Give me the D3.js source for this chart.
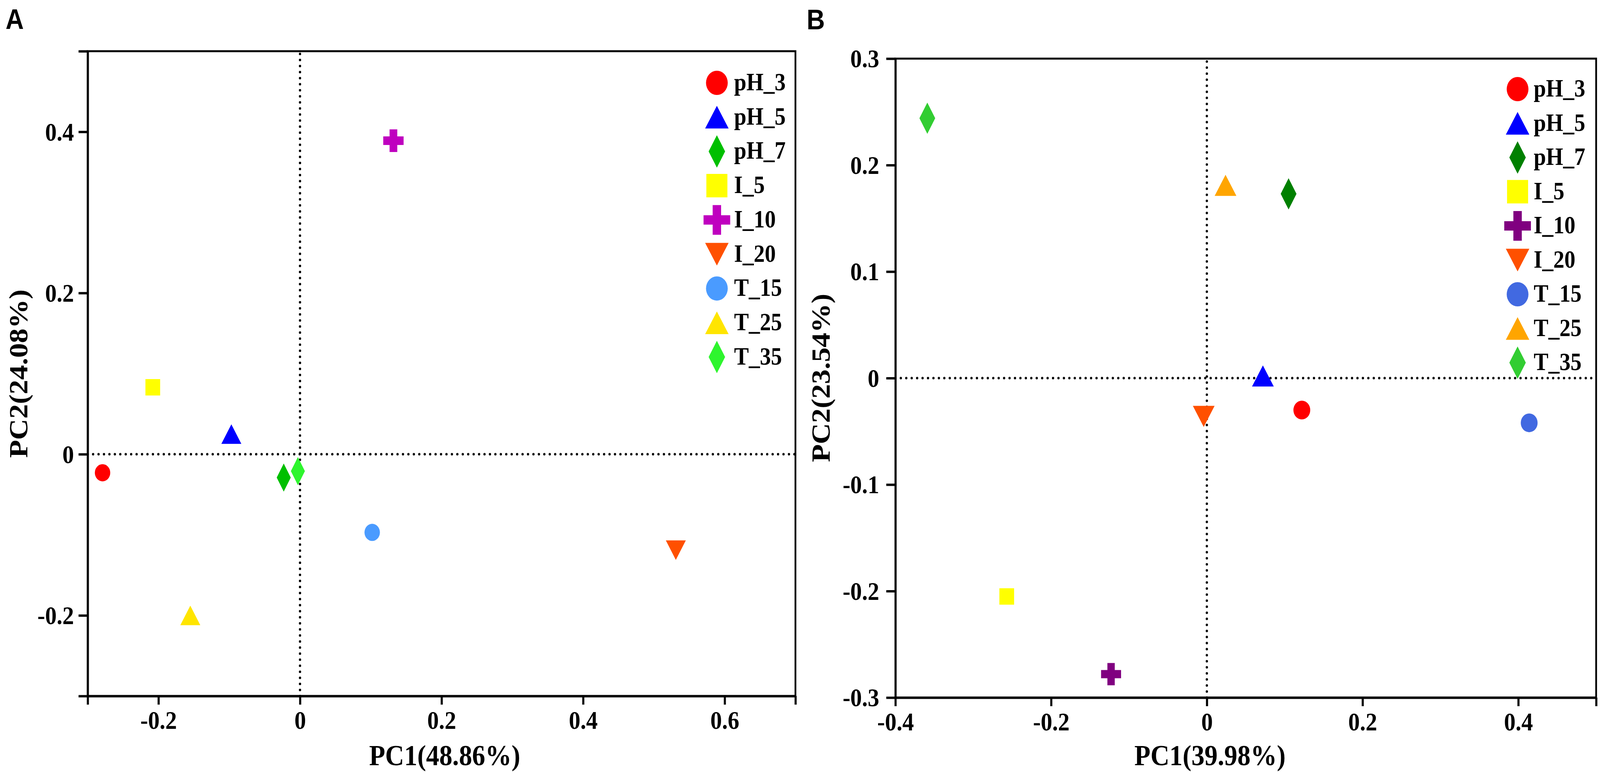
<!DOCTYPE html>
<html>
<head>
<meta charset="utf-8">
<script src="https://cdn.jsdelivr.net/npm/d3@7/dist/d3.min.js"></script>
<style>
  html, body { margin: 0; padding: 0; background: #fff; overflow: hidden; width: 100%; height: 100%; }
  svg { display: block; width: 100vw; height: 100vh; }
</style>
</head>
<body>
<svg id="chart" viewBox="0 0 4562 2001" preserveAspectRatio="none"></svg>
<script>
// ---------------- data ----------------
const groups = ["pH_3", "pH_5", "pH_7", "I_5", "I_10", "I_20", "T_15", "T_25", "T_35"];
const shapes = ["circle", "triangle", "diamond", "square", "cross", "triangleDown", "circle", "triangle", "diamond"];

// Panel A
const pc1A = [-0.279, -0.097, -0.023, -0.208, 0.132, 0.531, 0.102, -0.155, -0.003];
const pc2A = [-0.023, 0.025, -0.029, 0.083, 0.389, -0.119, -0.097, -0.200, -0.021];
const xTicksA = [-0.3, -0.2, 0, 0.2, 0.4, 0.6, 0.7];
const xLabelsA = ["", "-0.2", "0", "0.2", "0.4", "0.6", ""];
const yTicksA = [-0.3, -0.2, 0, 0.2, 0.4, 0.5];
const yLabelsA = ["", "-0.2", "0", "0.2", "0.4", ""];
const colorsA = ["#FF0000", "#0000FF", "#00BF00", "#FFFF00", "#BF00BF", "#FF5000", "#4A9BFF", "#FFE500", "#2EF52E"];

// Panel B
const pc1B = [0.122, 0.072, 0.105, -0.257, -0.123, -0.004, 0.414, 0.024, -0.359];
const pc2B = [-0.030, 0.002, 0.173, -0.205, -0.278, -0.036, -0.042, 0.181, 0.244];
const xTicksB = [-0.4, -0.2, 0, 0.2, 0.4, 0.5];
const xLabelsB = ["-0.4", "-0.2", "0", "0.2", "0.4", ""];
const yTicksB = [-0.3, -0.2, -0.1, 0, 0.1, 0.2, 0.3];
const yLabelsB = ["-0.3", "-0.2", "-0.1", "0", "0.1", "0.2", "0.3"];
const colorsB = ["#FF0000", "#0000FF", "#008000", "#FFFF00", "#800080", "#FF5000", "#4169E1", "#FFA500", "#32CD32"];

// ---------------- symbol helpers ----------------
function makeType(kind, d) {
  return {
    draw(ctx) {
      if (kind === "circle") {
        ctx.moveTo(d.r, 0); ctx.arc(0, 0, d.r, 0, 2 * Math.PI);
      } else if (kind === "triangle") {
        ctx.moveTo(0, -d.th / 2); ctx.lineTo(d.tw / 2, d.th / 2); ctx.lineTo(-d.tw / 2, d.th / 2); ctx.closePath();
      } else if (kind === "triangleDown") {
        ctx.moveTo(0, d.th / 2); ctx.lineTo(d.tw / 2, -d.th / 2); ctx.lineTo(-d.tw / 2, -d.th / 2); ctx.closePath();
      } else if (kind === "diamond") {
        ctx.moveTo(0, -d.dh / 2); ctx.lineTo(d.dw / 2, 0); ctx.lineTo(0, d.dh / 2); ctx.lineTo(-d.dw / 2, 0); ctx.closePath();
      } else if (kind === "square") {
        ctx.rect(-d.sq / 2, -d.sq / 2, d.sq, d.sq);
      } else if (kind === "cross") {
        const a = d.cs / 2, b = d.ca / 2;
        ctx.moveTo(-b, -a); ctx.lineTo(b, -a); ctx.lineTo(b, -b); ctx.lineTo(a, -b); ctx.lineTo(a, b);
        ctx.lineTo(b, b); ctx.lineTo(b, a); ctx.lineTo(-b, a); ctx.lineTo(-b, b); ctx.lineTo(-a, b);
        ctx.lineTo(-a, -b); ctx.lineTo(-b, -b); ctx.closePath();
      }
    }
  };
}
function symbolPath(kind, dims) { return d3.symbol().type(makeType(kind, dims))(); }

const dimsPlotA = { r: 22, tw: 57, th: 50, dw: 40, dh: 72, sq: 42, cs: 58, ca: 22 };
const dimsPlotB = { r: 24, tw: 62, th: 54, dw: 45, dh: 80, sq: 42, cs: 57, ca: 21 };
const dimsLegend = { r: 31, tw: 67, th: 58, dw: 47, dh: 83, sq: 60, cs: 76, ca: 24 };

const SERIF = '"Liberation Serif", "Times New Roman", serif';
const SANS = '"Liberation Sans", Arial, sans-serif';

const svg = d3.select("#chart");

function drawPanel(cfg) {
  const x = d3.scaleLinear().domain(cfg.xDomain).range(cfg.xRange);
  const y = d3.scaleLinear().domain(cfg.yDomain).range(cfg.yRange);
  const g = svg.append("g");

  // frame
  g.append("rect")
    .attr("x", cfg.xRange[0]).attr("y", cfg.yRange[1])
    .attr("width", cfg.xRange[1] - cfg.xRange[0])
    .attr("height", cfg.yRange[0] - cfg.yRange[1])
    .attr("fill", "none").attr("stroke", "#000").attr("stroke-width", 5);

  // zero reference lines (dotted)
  g.append("line")
    .attr("x1", cfg.xRange[0]).attr("x2", cfg.xRange[1])
    .attr("y1", y(0)).attr("y2", y(0))
    .attr("stroke", "#000").attr("stroke-width", 6.5)
    .attr("stroke-linecap", "round").attr("stroke-dasharray", "0 15.5");
  g.append("line")
    .attr("x1", x(0)).attr("x2", x(0))
    .attr("y1", cfg.yRange[0]).attr("y2", cfg.yRange[1])
    .attr("stroke", "#000").attr("stroke-width", 6.5)
    .attr("stroke-linecap", "round").attr("stroke-dasharray", "0 15.5");

  // axes
  const xAxis = d3.axisBottom(x).tickValues(cfg.xTicks)
    .tickFormat((d, i) => cfg.xLabels[i]).tickSize(22).tickSizeOuter(0).tickPadding(15);
  const yAxis = d3.axisLeft(y).tickValues(cfg.yTicks)
    .tickFormat((d, i) => cfg.yLabels[i]).tickSize(26).tickSizeOuter(0).tickPadding(cfg.yPad);

  const gx = g.append("g").attr("transform", `translate(0,${cfg.yRange[0]})`).call(xAxis);
  const gy = g.append("g").attr("transform", `translate(${cfg.xRange[0]},0)`).call(yAxis);
  [gx, gy].forEach(ax => {
    ax.select(".domain").attr("stroke-width", 6).attr("stroke", "#000");
    ax.selectAll(".tick line").attr("stroke-width", 6).attr("stroke", "#000");
    ax.selectAll(".tick text")
      .style("font-family", SERIF).style("font-weight", "bold").style("font-size", "66px")
      .attr("fill", "#000");
  });
  gy.selectAll(".tick text").attr("dy", "0.33em");

  // axis titles
  g.append("text").attr("x", cfg.xTitlePos[0]).attr("y", cfg.xTitlePos[1])
    .attr("text-anchor", "middle")
    .style("font-family", SERIF).style("font-weight", "bold").style("font-size", "75px")
    .text(cfg.xTitle);
  g.append("text")
    .attr("transform", `translate(${cfg.yTitlePos[0]},${cfg.yTitlePos[1]}) rotate(-90)`)
    .attr("text-anchor", "middle")
    .style("font-family", SERIF).style("font-weight", "bold").style("font-size", "75px")
    .text(cfg.yTitle);

  // panel letter
  svg.append("text").attr("x", cfg.letterPos[0]).attr("y", cfg.letterPos[1])
    .style("font-family", SANS).style("font-weight", "bold").style("font-size", "72px")
    .text(cfg.letter);

  // points
  const pts = groups.map((name, i) => ({ name, px: cfg.pc1[i], py: cfg.pc2[i], shape: shapes[i], color: cfg.colors[i] }));
  g.append("g").selectAll("path").data(pts).join("path")
    .attr("d", d => symbolPath(d.shape, cfg.plotDims))
    .attr("transform", d => `translate(${x(d.px)},${y(d.py)})`)
    .attr("fill", d => d.color);

  // legend
  const lg = g.append("g");
  const rows = lg.selectAll("g").data(pts).join("g")
    .attr("transform", (d, i) => `translate(${cfg.legendPos[0]},${cfg.legendPos[1] + i * cfg.legendStep})`);
  rows.append("path").attr("d", d => symbolPath(d.shape, dimsLegend)).attr("fill", d => d.color);
  rows.append("text").attr("x", cfg.legendTextDx).attr("y", 19)
    .style("font-family", SERIF).style("font-weight", "bold").style("font-size", "63px")
    .text(d => d.name);
}

drawPanel({
  letter: "A", letterPos: [16, 74],
  xDomain: [-0.3, 0.7], xRange: [250, 2268],
  yDomain: [-0.3, 0.5], yRange: [1781, 131],
  xTicks: xTicksA, xLabels: xLabelsA, yTicks: yTicksA, yLabels: yLabelsA, yPad: 13,
  xTitle: "PC1(48.86%)", yTitle: "PC2(24.08%)",
  xTitlePos: [1268, 1958], yTitlePos: [78, 956],
  pc1: pc1A, pc2: pc2A, colors: colorsA, plotDims: dimsPlotA,
  legendPos: [2044, 212], legendStep: 87.7, legendTextDx: 49
});

drawPanel({
  letter: "B", letterPos: [2300, 75],
  xDomain: [-0.4, 0.5], xRange: [2553, 4551],
  yDomain: [-0.3, 0.3], yRange: [1785, 150],
  xTicks: xTicksB, xLabels: xLabelsB, yTicks: yTicksB, yLabels: yLabelsB, yPad: 20,
  xTitle: "PC1(39.98%)", yTitle: "PC2(23.54%)",
  xTitlePos: [3450, 1958], yTitlePos: [2366, 967],
  pc1: pc1B, pc2: pc2B, colors: colorsB, plotDims: dimsPlotB,
  legendPos: [4327, 228], legendStep: 87.5, legendTextDx: 46
});
</script>
</body>
</html>
